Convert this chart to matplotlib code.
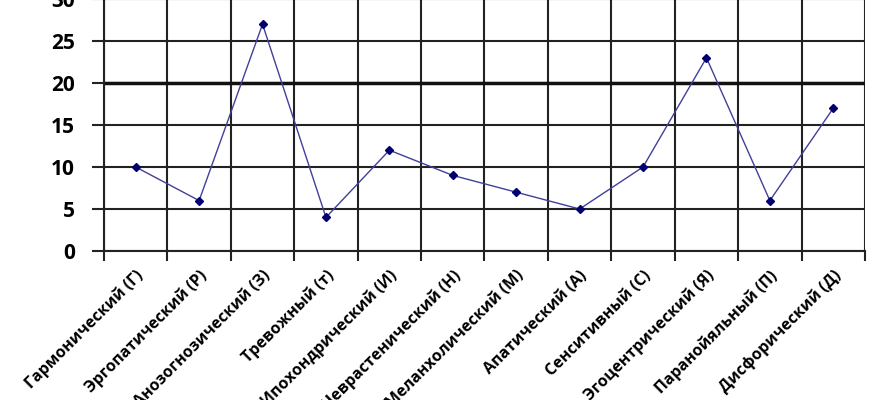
import matplotlib.pyplot as plt
import numpy as np

# данные графика
categories = ["Гармонический (Г)", "Эргопатический (Р)", "Анозогнозический (З)",
              "Тревожный (т)", "Ипохондрический (И)", "Неврастенический (Н)",
              "Меланхолический (М)", "Апатический (А)", "Сенситивный (С)",
              "Эгоцентрический (Я)", "Паранойяльный (П)", "Дисфорический (Д)"]
values = [10, 6, 27, 4, 12, 9, 7, 5, 10, 23, 6, 17]
y_ticks = [0, 5, 10, 15, 20, 25, 30]
threshold = 20

plt.rcParams['font.family'] = ['Open Sans', 'DejaVu Sans']

fig = plt.figure(figsize=(8.7, 4), dpi=100)
ax = fig.add_axes([104/870, 1-251/400, (865-104)/870, 252/400])

x = np.arange(len(values)) + 0.5
ax.plot(x, values, '-', color='#40409a', lw=1, zorder=3)
ax.plot(x, values, 'D', color='#000070', ms=4.5, zorder=4)

ax.set_xlim(0, len(values))
ax.set_ylim(0, 30)

# сетка
ax.set_xticks(np.arange(len(values) + 1))
ax.set_xticklabels([])
ax.set_xticks(x, minor=True)
ax.set_xticklabels(categories, minor=True, rotation=45, ha='right', va='top',
                   rotation_mode='anchor', fontsize=11.5, fontweight='bold')
ax.tick_params(axis='x', which='major', direction='out', length=7, width=1.5, color='#222222')
ax.tick_params(axis='x', which='minor', length=0, pad=12)
ax.set_yticks(y_ticks)
ax.set_yticklabels([str(v) for v in y_ticks], fontsize=15, fontweight='bold')
ax.tick_params(axis='y', direction='out', length=9, width=1.5, color='#222222', pad=12)

ax.grid(True, which='major', color='#222222', lw=1.5)
ax.axhline(threshold, color='#111111', lw=2.5, zorder=2)
for s in ['top', 'right']:
    ax.spines[s].set_visible(False)
for s in ['left', 'bottom']:
    ax.spines[s].set_linewidth(1.5)
    ax.spines[s].set_color('#222222')
ax.set_axisbelow(True)

fig.savefig('out.png', dpi=100)
